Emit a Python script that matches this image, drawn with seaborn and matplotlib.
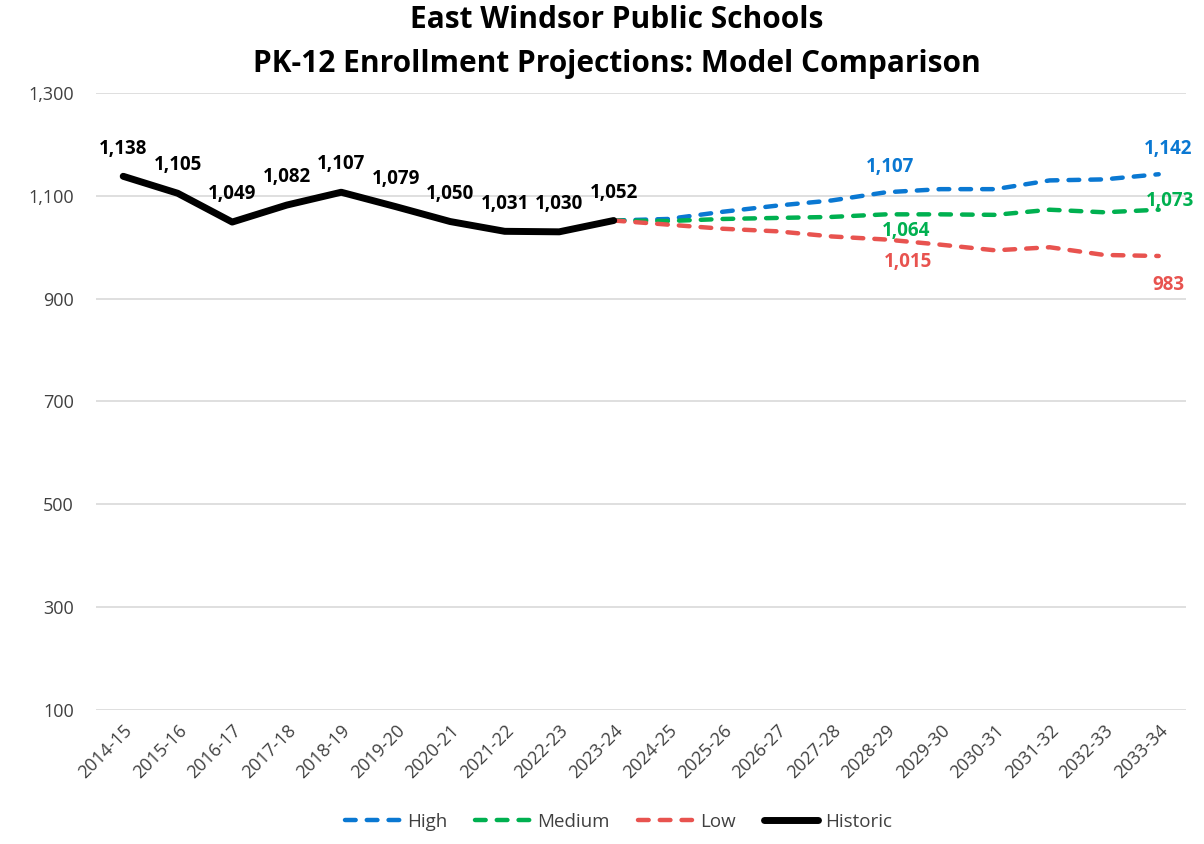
import matplotlib
matplotlib.use('Agg')
import matplotlib.pyplot as plt
import seaborn as sns
from matplotlib.ticker import FuncFormatter

years = ['2014-15', '2015-16', '2016-17', '2017-18', '2018-19', '2019-20',
         '2020-21', '2021-22', '2022-23', '2023-24', '2024-25', '2025-26',
         '2026-27', '2027-28', '2028-29', '2029-30', '2030-31', '2031-32',
         '2032-33', '2033-34']

historic = [1138, 1105, 1049, 1082, 1107, 1079, 1050, 1031, 1030, 1052]

# projections start from the last historic year (2023-24)
high = [1052, 1055, 1069, 1081, 1091, 1107, 1113, 1113, 1130, 1132, 1142]
medium = [1052, 1051, 1055, 1057, 1059, 1064, 1064, 1063, 1073, 1068, 1073]
low = [1052, 1044, 1036, 1031, 1021, 1015, 1005, 994, 1000, 985, 983]

blue = '#0A78D2'
green = '#00B050'
red = '#E8534F'

sns.set_style('white')
plt.rcParams['font.family'] = ['Open Sans', 'DejaVu Sans']

fig = plt.figure(figsize=(12.04, 8.44), dpi=100)
ax = fig.add_axes([0.0797, 0.1588, 0.9053, 0.731])

hist_x = list(range(len(historic)))
proj_x = list(range(len(historic) - 1, len(years)))

dash = (2.4, 2.5)
sns.lineplot(x=proj_x, y=high, ax=ax, color=blue, lw=3.2, label='High')
sns.lineplot(x=proj_x, y=medium, ax=ax, color=green, lw=3.2, label='Medium')
sns.lineplot(x=proj_x, y=low, ax=ax, color=red, lw=3.2, label='Low')
sns.lineplot(x=hist_x, y=historic, ax=ax, color='black', lw=5,
             label='Historic')

for ln in ax.lines[:3]:
    ln.set_linestyle((0, dash))
    ln.set_dash_capstyle('round')
ax.lines[3].set_solid_capstyle('round')
ax.lines[3].set_solid_joinstyle('round')

lab = dict(textcoords='offset points', ha='center', va='center',
           fontsize=13.5, fontweight='bold')

# data labels
for x, v in zip(hist_x, historic):
    ax.annotate(f'{v:,}', (x, v), xytext=(0, 20), color='black', **lab)

i28 = years.index('2028-29') - proj_x[0]
ax.annotate(f'{high[i28]:,}', (proj_x[i28], high[i28]), xytext=(3, 18),
            color=blue, **lab)
ax.annotate(f'{high[-1]:,}', (proj_x[-1], high[-1]), xytext=(7, 18),
            color=blue, **lab)
ax.annotate(f'{medium[i28]:,}', (proj_x[i28], medium[i28]), xytext=(14, -12),
            color=green, **lab)
ax.annotate(f'{medium[-1]:,}', (proj_x[-1], medium[-1]), xytext=(8, 6),
            color=green, **lab)
ax.annotate(f'{low[i28]:,}', (proj_x[i28], low[i28]), xytext=(16, -16),
            color=red, **lab)
ax.annotate(f'{low[-1]:,}', (proj_x[-1], low[-1]), xytext=(7, -21),
            color=red, **lab)

ax.set_xlim(-0.5, len(years) - 0.5)
ax.set_ylim(100, 1300)
ax.set_yticks(range(100, 1301, 200))
ax.yaxis.set_major_formatter(FuncFormatter(lambda v, p: f'{int(v):,}'))
ax.set_xticks(range(len(years)))
ax.set_xticklabels(years, rotation=45, ha='right', rotation_mode='anchor')
ax.tick_params(axis='both', length=0, labelsize=13, colors='#404040')
ax.tick_params(axis='y', pad=16)
ax.tick_params(axis='x', pad=8)
ax.grid(axis='y', color='#d9d9d9', lw=1.2)
ax.set_axisbelow(True)
for s in ax.spines.values():
    s.set_visible(False)
ax.set_xlabel('')
ax.set_ylabel('')

fig.suptitle('East Windsor Public Schools\nPK-12 Enrollment Projections: Model Comparison',
             x=0.512, y=0.994, fontsize=21.5, fontweight='bold',
             linespacing=1.6, color='black')

leg = ax.legend(loc='center', ncol=4, frameon=False, fontsize=13.5,
                handlelength=2.9, handletextpad=0.4, columnspacing=1.5)
leg.set_bbox_to_anchor((0.514, 0.026), transform=fig.transFigure)
for h in leg.get_lines()[:3]:
    h.set_linestyle((0, dash))
    h.set_dash_capstyle('round')
for t in leg.get_texts():
    t.set_color('#404040')

fig.savefig('out.png', dpi=100)
